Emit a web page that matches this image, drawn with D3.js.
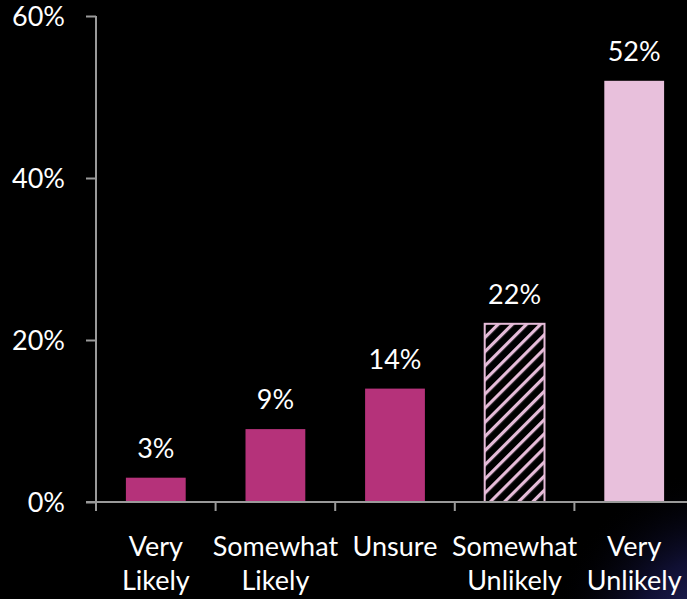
<!DOCTYPE html>
<html>
<head>
<meta charset="utf-8">
<script src="https://cdn.jsdelivr.net/npm/d3@7"></script>
<style>
  html, body { margin: 0; padding: 0; background: #000; }
  svg { display: block; }
  text { font-family: Lato, "Open Sans", sans-serif; fill: #fff; }
</style>
</head>
<body>
<svg id="chart" width="687" height="599"></svg>
<script>
const categories = [["Very", "Likely"], ["Somewhat", "Likely"], ["Unsure"], ["Somewhat", "Unlikely"], ["Very", "Unlikely"]];
const values = [3, 9, 14, 22, 52];
const valueLabels = ["3%", "9%", "14%", "22%", "52%"];
const barStyles = ["solid", "solid", "solid", "hatch", "light"];
const yTicks = [0, 20, 40, 60];
const yTickLabels = ["0%", "20%", "40%", "60%"];

const W = 687, H = 599;
const svg = d3.select("#chart");

const defs = svg.append("defs");
const rg = defs.append("radialGradient").attr("id", "glow")
  .attr("gradientUnits", "userSpaceOnUse").attr("cx", 720).attr("cy", 640).attr("r", 170);
rg.append("stop").attr("offset", "0").attr("stop-color", "#3a3c8c").attr("stop-opacity", 0.85);
rg.append("stop").attr("offset", "0.5").attr("stop-color", "#1a1a55").attr("stop-opacity", 0.6);
rg.append("stop").attr("offset", "1").attr("stop-color", "#000").attr("stop-opacity", 0);

const pat = defs.append("pattern").attr("id", "hatch")
  .attr("patternUnits", "userSpaceOnUse").attr("width", 10).attr("height", 10)
  .attr("patternTransform", "rotate(45)");
pat.append("rect").attr("width", 10).attr("height", 10).attr("fill", "#000");
pat.append("rect").attr("x", 0).attr("y", 0).attr("width", 3.2).attr("height", 10).attr("fill", "#e6bcd9");

svg.append("rect").attr("width", W).attr("height", H).attr("fill", "#000");
svg.append("rect").attr("width", W).attr("height", H).attr("fill", "url(#glow)");

const x = d3.scaleBand().domain(d3.range(values.length)).range([96, 694]).paddingInner(0.5).paddingOuter(0.25);
const y = d3.scaleLinear().domain([0, 60]).range([502, 16]);

const fill = { solid: "#b5327a", light: "#e8c0dc", hatch: "url(#hatch)" };

// bars
svg.selectAll("rect.bar").data(values).join("rect")
  .attr("class", "bar")
  .attr("x", (d, i) => x(i))
  .attr("y", d => y(d))
  .attr("width", x.bandwidth())
  .attr("height", d => y(0) - y(d))
  .attr("fill", (d, i) => fill[barStyles[i]])
  .attr("stroke", (d, i) => barStyles[i] === "hatch" ? "#e6bcd9" : "none")
  .attr("stroke-width", 2);

// value labels
svg.selectAll("text.val").data(values).join("text")
  .attr("class", "val")
  .attr("x", (d, i) => x(i) + x.bandwidth() / 2)
  .attr("y", d => y(d) - 20)
  .attr("text-anchor", "middle")
  .style("font-size", "27px")
  .text((d, i) => valueLabels[i]);

// y axis
const yAxis = d3.axisLeft(y).tickValues(yTicks).tickSize(10).tickFormat((d, i) => yTickLabels[i]);
const gy = svg.append("g").attr("transform", "translate(96,0)").call(yAxis);
gy.select(".domain").attr("d", "M0," + y(60) + "V" + y(0)).attr("stroke", "#9a9a9a").attr("stroke-width", 2);
gy.selectAll(".tick line").attr("stroke", "#9a9a9a").attr("stroke-width", 2);
gy.selectAll(".tick text").attr("x", -31).attr("dy", "0.36em")
  .style("font-size", "27px").style("fill", "#fff").attr("font-family", null);

// x axis
const xTickScale = d3.scaleLinear().domain([0, values.length]).range([96, 694]);
svg.append("line").attr("x1", 86).attr("x2", W).attr("y1", y(0)).attr("y2", y(0))
  .attr("stroke", "#9a9a9a").attr("stroke-width", 2);
svg.selectAll("line.xt").data(d3.range(values.length + 1)).join("line")
  .attr("class", "xt")
  .attr("x1", d => xTickScale(d)).attr("x2", d => xTickScale(d))
  .attr("y1", y(0)).attr("y2", y(0) + 9)
  .attr("stroke", "#9a9a9a").attr("stroke-width", 2);

// category labels
const cl = svg.selectAll("text.cat").data(categories).join("text")
  .attr("class", "cat")
  .attr("text-anchor", "middle")
  .style("font-size", "27px");
cl.each(function(lines, i) {
  const t = d3.select(this);
  lines.forEach((ln, j) => {
    t.append("tspan").attr("x", x(i) + x.bandwidth() / 2).attr("y", 556 + j * 34).text(ln);
  });
});
</script>
</body>
</html>
